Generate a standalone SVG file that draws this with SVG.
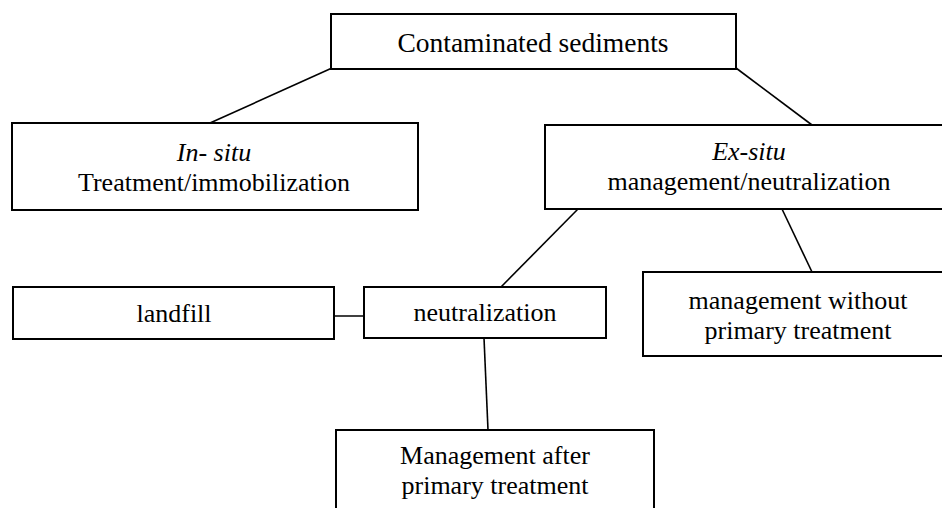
<svg xmlns="http://www.w3.org/2000/svg" width="942" height="508" viewBox="0 0 942 508">
<style>
.box{fill:#fff;stroke:#000;stroke-width:2}
.t{font-family:"Liberation Serif","Times New Roman",serif;font-size:26px;fill:#000;text-anchor:middle}
.i{font-style:italic}
.c{stroke:#000;stroke-width:1.6;fill:none}
</style>
<rect width="942" height="508" fill="#fff"/>
<g id="connectors">
<line class="c" x1="332" y1="68" x2="210" y2="123"/>
<line class="c" x1="736" y1="68" x2="812" y2="125"/>
<line class="c" x1="578" y1="209" x2="501" y2="287"/>
<line class="c" x1="782" y1="209" x2="812" y2="272"/>
<line class="c" x1="329" y1="316" x2="364" y2="316"/>
<line class="c" x1="484" y1="338" x2="488" y2="430"/>
</g>
<g id="n-contaminated">
<rect class="box" x="331" y="14" width="405" height="55"/>
<text class="t" x="533" y="52" style="font-size:27.5px">Contaminated sediments</text>
</g>
<g id="n-insitu">
<rect class="box" x="12" y="123" width="406" height="87"/>
<text class="t i" x="214" y="161">In- situ</text>
<text class="t" x="214" y="191">Treatment/immobilization</text>
</g>
<g id="n-exsitu">
<rect class="box" x="545" y="125" width="410" height="84"/>
<text class="t i" x="749" y="160">Ex-situ</text>
<text class="t" x="749" y="190">management/neutralization</text>
</g>
<g id="n-landfill">
<rect class="box" x="13" y="287" width="321" height="52"/>
<text class="t" x="174" y="322">landfill</text>
</g>
<g id="n-neutralization">
<rect class="box" x="364" y="287" width="242" height="51"/>
<text class="t" x="485" y="321">neutralization</text>
</g>
<g id="n-without">
<rect class="box" x="643" y="272" width="310" height="84"/>
<text class="t" x="798" y="309">management without</text>
<text class="t" x="798" y="339">primary treatment</text>
</g>
<g id="n-after">
<rect class="box" x="336" y="430" width="318" height="100"/>
<text class="t" x="495" y="464">Management after</text>
<text class="t" x="495" y="494">primary treatment</text>
</g>
</svg>
